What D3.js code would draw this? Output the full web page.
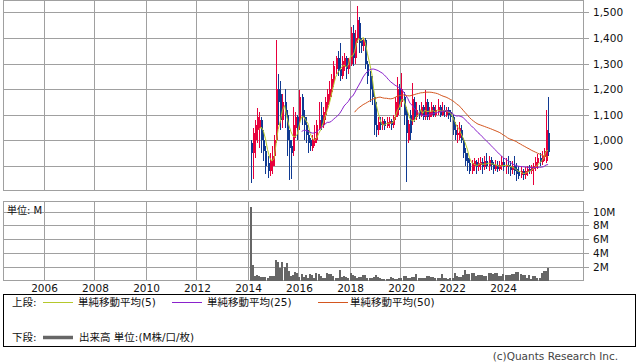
<!DOCTYPE html>
<html>
<head>
<meta charset="utf-8">
<script src="https://cdn.jsdelivr.net/npm/d3@7"></script>
<style>
  body { margin: 0; background: #fff; }
  text { font-family: "DejaVu Sans", "Noto Sans CJK JP", sans-serif; fill: #111; }
</style>
</head>
<body>
<div id="chart"></div>
<script>
// monthly bars, first bar = Feb 2014
var startYear = 2014, startMonth = 1

var opens = [
  990,950,1000,1040,1050,1080,1000,960,910,880,900,
  940,1000,1200,1180,1080,1150,1100,1000,980,960,1050,1090,
  1080,1170,1090,1060,1020,1000,970,990,1000,1050,1100,1060,
  1100,1140,1170,1190,1230,1280,1320,1280,1250,1290,1320,1280,
  1300,1420,1320,1400,1460,1390,1370,1390,1300,1250,1200,1170,
  1060,1040,1070,1060,1075,1055,1065,1075,1060,1090,1100,1200,
  1150,1170,1110,1000,1100,1080,1150,1090,1120,1100,1130,1090,
  1150,1090,1100,1130,1100,1110,1130,1100,1120,1100,1120,1110,
  1090,1040,1020,1010,1040,1000,950,930,910,880,900,915,
  895,905,915,895,920,900,925,905,890,905,890,900,
  915,895,905,900,885,900,890,880,865,880,865,875,
  890,880,890,895,910,930,915,935,920,1030
]
var highs = [
  1000,1050,1080,1127,1110,1090,1040,980,940,950,980,
  1020,1392,1260,1230,1180,1200,1120,1040,1000,1130,1110,1100,
  1197,1180,1120,1090,1040,1010,1020,1060,1080,1150,1150,1130,
  1170,1200,1230,1260,1310,1330,1350,1380,1330,1340,1330,1320,
  1443,1450,1430,1525,1480,1400,1400,1400,1310,1270,1250,1180,
  1150,1090,1090,1090,1085,1090,1090,1085,1100,1170,1248,1220,
  1262,1190,1130,1080,1120,1223,1170,1150,1140,1150,1140,1197,
  1160,1130,1150,1140,1140,1160,1140,1150,1140,1130,1130,1120,
  1100,1070,1060,1070,1060,1010,970,950,930,925,930,925,
  930,935,930,940,950,940,935,915,925,920,920,940,
  930,930,940,920,920,940,910,900,900,890,895,900,
  905,905,910,935,945,950,960,970,1119,1170
]
var lows = [
  835,850,930,990,970,950,920,870,855,860,870,
  900,990,1060,1040,1050,1050,940,845,850,940,1010,1000,
  1040,1060,1000,990,950,960,960,980,990,1040,1040,1050,
  1080,1120,1150,1170,1210,1260,1250,1230,1240,1270,1240,1260,
  1290,1290,1300,1380,1340,1340,1350,1280,1220,1150,1140,1020,
  1013,1020,1040,1040,1040,1050,1050,1040,1050,1080,1090,1120,
  1130,1060,838,990,1000,1060,1070,1080,1085,1090,1080,1080,
  1080,1080,1090,1090,1090,1100,1090,1095,1090,1090,1085,1070,
  1020,1000,990,1000,990,930,900,880,870,870,880,870,
  880,885,870,885,890,880,885,870,880,875,880,885,
  880,870,870,860,870,865,840,850,855,845,850,860,
  870,870,826,880,890,900,905,920,910,940
]
var closes = [
  950,1030,1060,1090,1080,1000,960,900,880,920,940,
  1000,1200,1150,1080,1150,1100,1000,970,950,1060,1090,1050,
  1170,1090,1060,1020,990,980,1000,1010,1060,1080,1060,1110,
  1150,1180,1200,1240,1290,1320,1270,1250,1310,1320,1280,1310,
  1420,1320,1400,1470,1380,1370,1390,1300,1250,1200,1170,1060,
  1040,1070,1060,1075,1055,1070,1075,1060,1090,1150,1200,1150,
  1200,1100,1030,1065,1030,1160,1090,1120,1100,1130,1090,1150,
  1090,1110,1130,1100,1120,1130,1100,1120,1110,1120,1100,1090,
  1040,1020,1030,1050,1000,950,920,910,880,910,920,895,
  910,915,895,920,900,925,905,890,905,890,905,915,
  895,905,895,885,900,880,870,860,880,865,880,890,
  880,895,900,915,930,915,940,960,1040,955
]
// volume, millions
var volumes = [
  10.7,2.3,0.7,0.8,0.7,0.6,0.6,0.55,0.5,0.7,0.7,
  0.7,3.0,2.7,1.8,2.8,2.0,2.6,1.4,0.7,0.8,1.3,1.1,
  0.6,1.0,0.6,0.8,0.4,1.0,0.8,0.5,1.2,1.0,0.7,0.5,
  0.5,1.2,1.0,1.0,0.7,0.5,0.5,1.6,0.6,0.7,0.6,0.5,
  1.2,0.9,0.7,0.5,0.6,0.6,0.8,0.8,0.5,0.4,0.5,0.6,
  0.8,0.6,0.4,0.3,0.3,0.3,0.3,0.6,0.4,0.35,0.35,0.4,
  0.5,0.7,0.7,0.4,0.4,0.6,0.6,1.0,0.5,0.5,0.5,0.5,
  0.75,0.75,0.6,0.6,0.4,0.5,0.5,1.0,0.5,0.5,0.35,0.4,
  0.4,1.2,0.7,0.6,0.6,0.8,1.6,1.0,1.0,1.2,1.2,0.7,
  0.8,0.8,0.8,0.7,0.7,1.1,1.1,1.0,1.2,1.2,0.7,0.7,
  1.0,0.9,0.9,0.8,1.0,1.0,1.3,1.3,1.0,0.8,0.8,0.5,
  0.8,0.3,0.7,0.7,0.5,0.5,1.1,1.5,1.5,1.9
]

var yearTicks = [2006, 2008, 2010, 2012, 2014, 2016, 2018, 2020, 2022, 2024]
var priceTicks = [900, 1000, 1100, 1200, 1300, 1400, 1500]
var volTicks = [2, 4, 6, 8, 10]
var maPeriods = [5, 25, 50]
var maColors = ["#b5c82c", "#8a22cc", "#d4561f"]
var maLabels = ["単純移動平均(5)", "単純移動平均(25)", "単純移動平均(50)"]

var W = 638, H = 362
var pLeft = 3.5, pRight = 583.5
var main = {top: 0.5, bottom: 190.5}
var sub = {top: 201.5, bottom: 280.5}
var gridColor = "#a0a0a0"

var data = closes.map(function(c, i) {
  return {
    date: new Date(startYear, startMonth + i, 15),
    o: opens[i], h: highs[i], l: lows[i], c: c, v: volumes[i]
  }
})

var x = d3.scaleTime()
  .domain([new Date(2006, 0, 1), new Date(2024, 0, 1)])
  .range([43.5, 502.5])
var y = d3.scaleLinear().domain([900, 1500]).range([166, 12.3])
var yv = d3.scaleLinear().domain([0, 10]).range([281, 211.5])

var svg = d3.select("#chart").append("svg")
  .attr("width", W).attr("height", H)

svg.append("rect").attr("width", W).attr("height", H).attr("fill", "#fff")

// grid, both panels
var grid = svg.append("g").attr("stroke", gridColor).attr("stroke-width", 1).attr("shape-rendering", "crispEdges")
yearTicks.forEach(function(yr) {
  var gx = Math.round(x(new Date(yr, 0, 1))) + 0.5
  grid.append("line").attr("x1", gx).attr("x2", gx).attr("y1", main.top).attr("y2", main.bottom)
  grid.append("line").attr("x1", gx).attr("x2", gx).attr("y1", sub.top).attr("y2", sub.bottom)
})
priceTicks.forEach(function(p) {
  var gy = Math.round(y(p)) + 0.5
  grid.append("line").attr("x1", pLeft).attr("x2", pRight + 5).attr("y1", gy).attr("y2", gy)
})
volTicks.forEach(function(v) {
  var gy = Math.round(yv(v)) + 0.5
  grid.append("line").attr("x1", pLeft).attr("x2", pRight + 5).attr("y1", gy).attr("y2", gy)
})
grid.append("rect").attr("x", pLeft).attr("y", main.top)
  .attr("width", pRight - pLeft).attr("height", main.bottom - main.top).attr("fill", "none")
grid.append("rect").attr("x", pLeft).attr("y", sub.top)
  .attr("width", pRight - pLeft).attr("height", sub.bottom - sub.top).attr("fill", "none")

// right labels
svg.selectAll(".ptick").data(priceTicks).enter().append("text")
  .attr("class", "ptick")
  .attr("x", 593).attr("y", function(d) { return y(d) + 4 })
  .style("font-size", "10.5px")
  .text(function(d) { return d3.format(",")(d) })
svg.selectAll(".vtick").data(volTicks).enter().append("text")
  .attr("class", "vtick")
  .attr("x", 593).attr("y", function(d) { return yv(d) + 4 })
  .style("font-size", "10.5px")
  .text(function(d) { return d + "M" })
svg.selectAll(".xtick").data(yearTicks).enter().append("text")
  .attr("class", "xtick")
  .attr("x", function(d) { return x(new Date(d, 0, 1)) + 1 })
  .attr("y", 292)
  .attr("text-anchor", "middle")
  .style("font-size", "10.5px")
  .text(function(d) { return d })

svg.append("text").attr("x", 7).attr("y", 214).style("font-size", "10px").text("単位: M")

// volume bars
svg.append("g").selectAll("rect").data(data).enter().append("rect")
  .attr("x", function(d) { return Math.round(x(d.date)) - 1 })
  .attr("width", 2)
  .attr("y", function(d) { return yv(d.v) })
  .attr("height", function(d) { return sub.bottom - yv(d.v) })
  .attr("fill", "#666")
  .attr("shape-rendering", "crispEdges")

// candles
var up = "#e8003c", down = "#103a92"
var cdl = svg.append("g").attr("shape-rendering", "crispEdges")
  .selectAll("g").data(data).enter().append("g")
cdl.append("line")
  .attr("x1", function(d) { return Math.round(x(d.date)) + 0.5 })
  .attr("x2", function(d) { return Math.round(x(d.date)) + 0.5 })
  .attr("y1", function(d) { return y(d.h) })
  .attr("y2", function(d) { return y(d.l) })
  .attr("stroke", function(d) { return d.c >= d.o ? up : down })
cdl.append("rect")
  .attr("x", function(d) { return Math.round(x(d.date)) - 0.5 })
  .attr("width", 2.5)
  .attr("y", function(d) { return y(Math.max(d.o, d.c)) })
  .attr("height", function(d) { return Math.max(1, Math.abs(y(d.o) - y(d.c))) })
  .attr("fill", function(d) { return d.c >= d.o ? up : down })

// moving averages
maPeriods.forEach(function(n, k) {
  var pts = []
  for (var i = n - 1; i < data.length; i++) {
    pts.push({date: data[i].date, v: d3.mean(closes.slice(i - n + 1, i + 1))})
  }
  svg.append("path").datum(pts)
    .attr("fill", "none")
    .attr("stroke", maColors[k])
    .attr("stroke-width", 1)
    .attr("d", d3.line().x(function(d) { return x(d.date) }).y(function(d) { return y(d.v) }))
})

// legend
svg.append("rect").attr("x", 3.5).attr("y", 294.5).attr("width", 632).attr("height", 52)
  .attr("fill", "none").attr("stroke", "#000").attr("shape-rendering", "crispEdges")
svg.append("text").attr("x", 12).attr("y", 306).style("font-size", "10.5px").text("上段:")
var legX = [[43, 78], [172, 207], [318, 350]]
maLabels.forEach(function(lab, k) {
  svg.append("line").attr("x1", legX[k][0]).attr("x2", legX[k][0] + 30)
    .attr("y1", 302.5).attr("y2", 302.5).attr("stroke", maColors[k])
  svg.append("text").attr("x", legX[k][1]).attr("y", 306).style("font-size", "10.5px").text(lab)
})
svg.append("text").attr("x", 12).attr("y", 341).style("font-size", "10.5px").text("下段:")
svg.append("line").attr("x1", 43).attr("x2", 73).attr("y1", 337.5).attr("y2", 337.5)
  .attr("stroke", "#666").attr("stroke-width", 3.5)
svg.append("text").attr("x", 79).attr("y", 341).style("font-size", "10.5px").text("出来高 単位:(M株/口/枚)")

svg.append("text").attr("x", 618).attr("y", 360).attr("text-anchor", "end")
  .style("font-size", "10.5px").style("fill", "#444").text("(c)Quants Research Inc.")
</script>
</body>
</html>
